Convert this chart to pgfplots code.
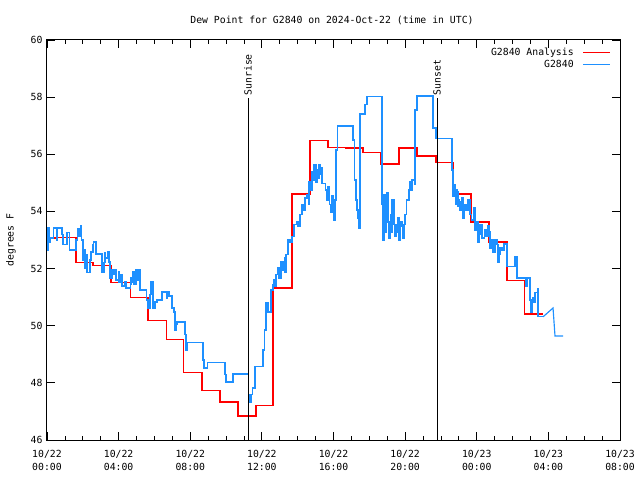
\documentclass[border=0pt]{standalone}
\usepackage{fontspec}
\setmainfont{DejaVu Sans Mono}
\usepackage{pgfplots}
\pgfplotsset{compat=1.18}
\definecolor{obsblue}{RGB}{30,144,255}
\begin{document}
\fontsize{9.8bp}{12bp}\selectfont
\begin{tikzpicture}
\useasboundingbox (0,0) rectangle (640bp,480bp);
\node at (332bp,460bp) {Dew Point for G2840 on 2024-Oct-22 (time in UTC)};
\node[rotate=90] at (11bp,240bp) {degrees F};
\begin{axis}[
    at={(47bp,40bp)}, anchor=south west,
    scale only axis, width=573bp, height=400bp,
    xmin=0, xmax=32, ymin=46, ymax=60,
    xtick={0,4,...,32}, minor x tick num=3,
    xticklabels={{10/22\\00:00},{10/22\\04:00},{10/22\\08:00},{10/22\\12:00},{10/22\\16:00},{10/22\\20:00},{10/23\\00:00},{10/23\\04:00},{10/23\\08:00}},
    xticklabel style={align=center, yshift=-7bp, font=\fontsize{9.8bp}{13bp}\selectfont},
    ytick={46,48,...,60},
    yticklabel style={xshift=-1bp},
    /pgf/number format/assume math mode=true,
    tick style={black, line width=0.8bp},
    major tick length=8bp, minor tick length=4bp,
    axis line style={line width=1bp},
    legend style={draw=none, fill=none, at={(1,1)}, anchor=north east,
        xshift=-6bp, yshift=-4bp, row sep=-1bp},
    legend plot pos=right,
    legend cell align=right,
    legend image code/.code={\path (0bp,0bp); \draw[#1, line width=1.15bp] (7bp,0bp) -- (34bp,0bp);},
]
% analysis, hourly steps
\addplot[const plot, color=red, line width=1.15bp, mark=none] coordinates {
(0,53.07) (0.56,53.10) (1.62,52.20) (2.57,52.12) (3.57,51.50) (4.64,51.00)
(5.64,50.17) (6.65,49.53) (7.60,48.35) (8.66,47.72) (9.66,47.33) (10.67,46.84)
(11.67,47.22) (12.62,51.32) (13.68,54.61) (14.69,56.47) (15.69,56.25) (16.70,56.22)
(17.65,56.05) (18.65,55.66) (19.66,56.22) (20.66,55.94) (21.72,55.70) (22.67,54.61)
(23.68,53.63) (24.68,52.93) (25.69,51.57) (26.69,50.41) (27.70,50.41)
};
% observations
\addplot[const plot, color=obsblue, line width=1.15bp, mark=none] coordinates {
(0,53.28) (0.03,52.65) (0.06,53.42) (0.11,52.90) (0.17,53.07) (0.34,53.42)
(0.56,53.00) (0.61,53.42) (0.84,53.18) (0.89,52.83) (1.12,53.25) (1.28,52.65)
(1.62,53.00) (1.68,53.25) (1.73,53.39) (1.79,53.14) (1.84,53.35) (1.90,53.49)
(1.95,53.00) (2.01,52.30) (2.07,52.65) (2.12,52.02) (2.18,52.48) (2.23,51.85)
(2.40,52.30) (2.46,52.58) (2.57,52.83) (2.62,52.93) (2.74,52.51) (3.07,51.88)
(3.18,52.20) (3.24,52.55) (3.29,52.37) (3.41,52.58) (3.46,52.23) (3.52,51.67)
(3.63,51.95) (3.69,51.78) (3.80,51.95) (3.85,51.60) (3.97,51.88) (4.02,51.53)
(4.08,51.78) (4.19,51.39) (4.36,51.53) (4.41,51.32) (4.64,51.43) (4.69,51.67)
(4.75,51.53) (4.80,51.88) (4.86,51.43) (4.97,51.95) (5.08,51.60) (5.14,51.95)
(5.19,51.25) (5.58,50.90) (5.64,50.62) (5.75,51.08) (5.81,51.53) (5.92,50.62)
(6.03,50.83) (6.14,50.90) (6.42,51.18) (6.65,50.97) (6.70,51.18) (6.81,51.04)
(6.98,50.62) (7.09,50.48) (7.15,49.85) (7.20,50.03) (7.26,50.13) (7.71,49.68)
(7.76,49.15) (7.87,49.40) (8.71,48.80) (8.77,48.52) (8.94,48.70) (9.94,48.28)
(10.00,48.03) (10.39,48.31) (11.23,47.58) (11.28,47.33) (11.39,47.58) (11.50,47.82)
(11.62,48.56) (12.06,49.15) (12.17,49.85) (12.23,50.80) (12.34,50.48) (12.51,51.25)
(12.62,51.43) (12.68,51.60) (12.73,51.36) (12.79,51.78) (12.90,52.02) (12.96,51.67)
(13.07,52.23) (13.18,51.95) (13.24,52.37) (13.29,51.88) (13.35,52.48) (13.46,53.00)
(13.57,52.90) (13.68,53.11) (13.79,53.53) (13.91,53.63) (14.02,53.46) (14.13,53.88)
(14.24,54.23) (14.35,54.05) (14.41,54.47) (14.52,54.58) (14.58,54.23) (14.63,55.03)
(14.74,54.75) (14.80,55.38) (14.86,55.10) (14.91,55.63) (15.02,55.03) (15.08,55.45)
(15.13,55.17) (15.19,55.63) (15.25,55.28) (15.30,55.52) (15.36,54.99) (15.53,54.75)
(15.64,54.40) (15.69,54.86) (15.80,54.23) (15.86,53.98) (15.92,54.54) (15.97,54.23)
(16.03,53.70) (16.08,54.40) (16.14,56.15) (16.20,56.99) (17.09,56.50) (17.15,55.10)
(17.26,54.40) (17.31,54.05) (17.37,53.77) (17.42,53.42) (17.48,57.41) (17.76,57.73)
(17.87,58.01) (18.71,54.23) (18.76,53.00) (18.82,54.58) (18.88,53.28) (18.93,54.05)
(18.99,54.65) (19.04,53.63) (19.10,53.07) (19.16,53.88) (19.21,53.28) (19.27,54.40)
(19.38,53.56) (19.43,53.11) (19.49,53.53) (19.55,53.28) (19.60,53.77) (19.66,53.00)
(19.71,53.49) (19.77,53.63) (19.83,53.07) (19.94,53.53) (19.99,53.88) (20.10,54.40)
(20.22,54.75) (20.27,55.03) (20.33,54.75) (20.38,55.10) (20.50,54.93) (20.55,57.55)
(20.66,58.04) (21.56,56.92) (21.72,56.54) (22.62,55.45) (22.67,54.54) (22.73,54.93)
(22.79,54.23) (22.84,54.75) (22.90,54.68) (22.95,54.16) (23.01,54.40) (23.06,54.05)
(23.12,54.33) (23.18,54.47) (23.23,53.77) (23.29,54.23) (23.40,54.05) (23.51,54.40)
(23.62,53.88) (23.73,53.70) (23.85,54.12) (23.90,53.35) (23.96,53.63) (24.07,52.93)
(24.13,53.18) (24.18,53.53) (24.29,53.07) (24.41,53.35) (24.52,53.14) (24.63,53.49)
(24.68,53.28) (24.74,52.72) (24.80,53.00) (24.91,52.58) (25.02,53.00) (25.13,52.83)
(25.19,52.23) (25.24,52.48) (25.30,52.72) (25.41,52.65) (25.52,52.86) (25.69,52.06)
(26.14,52.41) (26.25,51.67) (26.75,51.36) (26.81,51.67) (26.97,50.90) (27.03,50.48)
(27.09,50.97) (27.20,50.80) (27.25,51.15) (27.37,51.29) (27.42,50.31) (27.70,50.31)
};
% gap at the end of the record, joined by a straight line
\addplot[sharp plot, color=obsblue, line width=1.15bp, mark=none, forget plot] coordinates {
(27.70,50.31) (28.26,50.62) (28.37,49.64) (28.82,49.64)
};
\legend{G2840 Analysis, G2840}
\draw[black, line width=1bp] (11.23,46) -- (11.23,57.97)
    node[rotate=90, anchor=west, inner sep=2bp] {Sunrise};
\draw[black, line width=1bp] (21.78,46) -- (21.78,57.97)
    node[rotate=90, anchor=west, inner sep=2bp] {Sunset};
\end{axis}
\end{tikzpicture}
\end{document}
